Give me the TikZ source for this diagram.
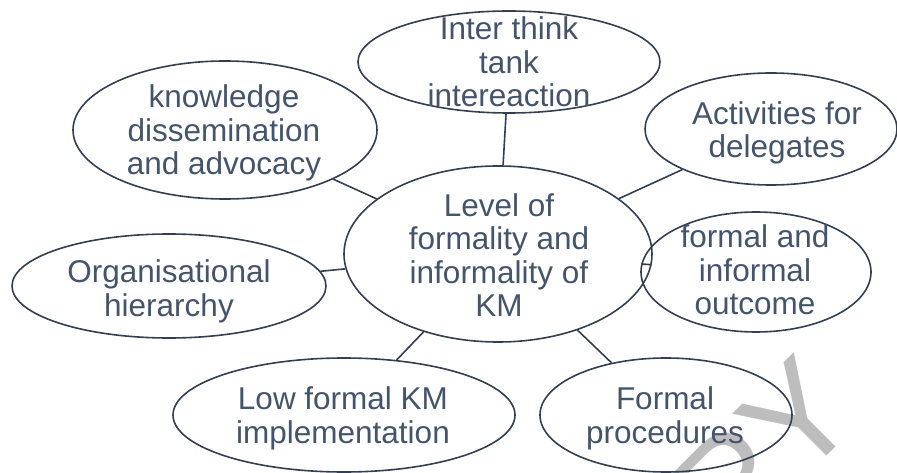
\documentclass[tikz,border=0pt]{standalone}
\usepackage{fontspec}
\setmainfont{Liberation Sans}
\usetikzlibrary{shapes.geometric}
\definecolor{linec}{HTML}{333F50}
\definecolor{textc}{HTML}{44546A}
\definecolor{wmark}{HTML}{BDBDBD}
\tikzset{
  oval/.style={draw=linec, line width=1.6pt, ellipse, inner sep=0pt},
  lbl/.style={text=textc, align=center, inner sep=0pt, font=\fontsize{31.5}{33.5}\selectfont},
  link/.style={draw=linec, line width=1.6pt},
  wm/.style={text=wmark, inner sep=0pt, rotate=45, font=\fontsize{140}{140}\selectfont}
}
\begin{document}
\begin{tikzpicture}[x=1pt,y=-1pt]
\useasboundingbox (0,0) rectangle (897,473);
\begin{scope}
\clip (0,0) rectangle (897,473);
\node[wm] (wmtext) at (690,525) {COPY};
\end{scope}
% ellipses
\node[oval, minimum width=308pt, minimum height=176pt] (c) at (498,254) {};
\node[oval, minimum width=302pt, minimum height=102pt] (t) at (509,62) {};
\node[oval, minimum width=304pt, minimum height=138pt] (k) at (225,130) {};
\node[oval, minimum width=252pt, minimum height=112pt] (a) at (771,129) {};
\node[oval, minimum width=230pt, minimum height=120pt] (f) at (756,272) {};
\node[oval, minimum width=314pt, minimum height=104pt] (o) at (169,286) {};
\node[oval, minimum width=342pt, minimum height=114pt] (l) at (344,415) {};
\node[oval, minimum width=252pt, minimum height=114pt] (p) at (666,415) {};
% texts
\node[lbl] (ct) at (499,255) {Level of\\formality and\\informality of\\KM};
\node[lbl] (tt) at (509,62) {Inter think\\tank\\intereaction};
\node[lbl] (kt) at (224,133) {knowledge\\dissemination\\and advocacy};
\node[lbl] (at) at (777,133) {Activities for\\delegates};
\node[lbl] (ft) at (755,270) {formal and\\informal\\outcome};
\node[lbl] (ot) at (169,291.5) {Organisational\\hierarchy};
\node[lbl] (lt) at (343,418.5) {Low formal KM\\implementation};
\node[lbl] (pt) at (665,418.5) {Formal\\procedures};
% connectors
\draw[link] (c) -- (t);
\draw[link] (c) -- (k);
\draw[link] (c) -- (a);
\draw[link] (c) -- (f);
\draw[link] (c) -- (o);
\draw[link] (c) -- (l);
\draw[link] (c) -- (p);
\end{tikzpicture}
\end{document}
